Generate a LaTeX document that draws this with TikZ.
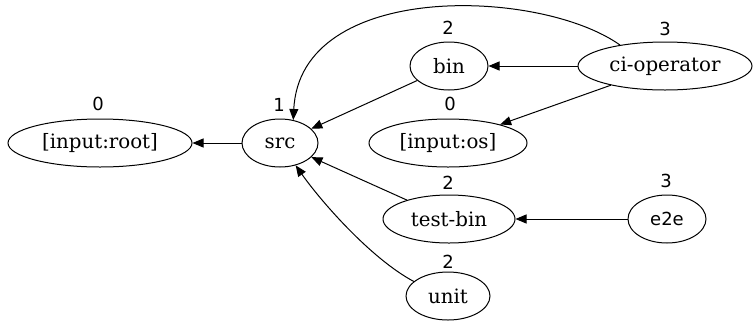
\documentclass[tikz,border=0pt]{standalone}
\usepackage{fontspec}
\setmainfont{DejaVu Serif}
\newfontfamily\lvlfont{DejaVu Sans}
\usetikzlibrary{arrows.meta,shapes.geometric}

\begin{document}
\begin{tikzpicture}[x=1pt,y=-1pt,
  job/.style={ellipse,draw,line width=1pt,minimum height=48pt,inner sep=0pt,
              font=\fontsize{19.8}{22}\selectfont},
  lvl/.style={inner sep=0pt,font=\lvlfont\fontsize{18}{20}\selectfont},
  dep/.style={-{Triangle[length=11pt,width=9pt]},line width=1pt}]
\useasboundingbox (0,0) rectangle (754,322);

% jobs
\node[job,minimum width=184pt] (root)  at (100,143) {[input:root]};
\node[job,minimum width=76pt]  (src)   at (280,143) {src};
\node[job,minimum width=78pt]  (bin)   at (449,66)  {bin};
\node[job,minimum width=158pt] (os)    at (448,143) {[input:os]};
\node[job,minimum width=174pt] (ciop)  at (665,66)  {ci-operator};
\node[job,minimum width=132pt] (tbin)  at (449,219) {test-bin};
\node[job,minimum width=78pt,font=\lvlfont\fontsize{18}{20}\selectfont] (e2e) at (667,219) {e2e};
\node[job,minimum width=84pt]  (unit)  at (448,296) {unit};

% levels
\node[lvl] (root-l) at (98,103.5) {0};
\node[lvl] (src-l)  at (279,105)  {1};
\node[lvl] (bin-l)  at (448,28)   {2};
\node[lvl] (os-l)   at (450,104)  {0};
\node[lvl] (ciop-l) at (665,29)   {3};
\node[lvl] (tbin-l) at (448,183)  {2};
\node[lvl] (e2e-l)  at (666,180.5){3};
\node[lvl] (unit-l) at (448,262)  {2};

% dependencies
\draw[dep] (src) -- (root);
\draw[dep] (bin) -- (src);
\draw[dep] (tbin) -- (src);
\draw[dep] (ciop) -- (bin);
\draw[dep] (ciop) -- (os);
\draw[dep] (e2e) -- (tbin);
\draw[dep] (ciop.155) .. controls (540,-12) and (300,-20) .. (src.60);
\draw[dep] (unit.157) .. controls (370,258) and (320,200) .. (src.-55);
\end{tikzpicture}
\end{document}
